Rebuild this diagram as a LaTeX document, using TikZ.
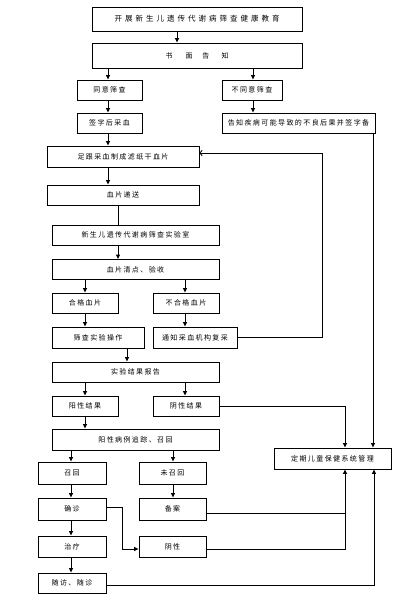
\documentclass[tikz,border=0pt]{standalone}
\usepackage{fontspec}
\newfontfamily\cjk[LetterSpace=20]{Noto Sans CJK SC}
\newfontfamily\cjkwide[LetterSpace=40]{Noto Sans CJK SC}
\usetikzlibrary{arrows.meta}

\begin{document}
\begin{tikzpicture}[x=1pt,y=-1pt,
  box/.style={draw,line width=0.9pt,inner sep=0pt,font=\cjk\fontsize{7}{8}\selectfont},
  arr/.style={line width=0.9pt,-{Triangle[width=4pt,length=4.5pt]}},
  ln/.style={line width=0.9pt},
  back/.style={line width=0.9pt,-{To[width=6pt,length=3pt]}}]

\useasboundingbox (0,0) rectangle (414,600);

\node[box,minimum width=210pt,minimum height=24pt,font=\cjkwide\fontsize{7.5}{8}\selectfont](edu) at (197,19){开展新生儿遗传代谢病筛查健康教育};
\node[box,minimum width=210pt,minimum height=25pt](notice) at (197,55.5){书\hspace{13pt}面\hspace{10pt}告\hspace{12pt}知};
\node[box,minimum width=65pt,minimum height=20pt](agree) at (109.5,90){同意筛查};
\node[box,minimum width=60pt,minimum height=20pt](refuse) at (252,90){不同意筛查};
\node[box,minimum width=65pt,minimum height=20pt](sign) at (109.5,123){签字后采血};
\node[box,minimum width=153pt,minimum height=20pt](inform) at (298.5,123){告知疾病可能导致的不良后果并签字备};
\node[box,minimum width=152pt,minimum height=21pt](heel) at (123,156.5){足跟采血制成滤纸干血片};
\node[box,minimum width=152pt,minimum height=20pt](send) at (123,195){血片递送};
\node[box,minimum width=167pt,minimum height=20pt](lab) at (135.5,235){新生儿遗传代谢病筛查实验室};
\node[box,minimum width=167pt,minimum height=20pt](count) at (135.5,269.5){血片清点、验收};
\node[box,minimum width=66pt,minimum height=20pt](good) at (85,303){合格血片};
\node[box,minimum width=66pt,minimum height=20pt](bad) at (186,303){不合格血片};
\node[box,minimum width=92pt,minimum height=21pt](test) at (98,337.5){筛查实验操作};
\node[box,minimum width=84pt,minimum height=21pt](again) at (195,337.5){通知采血机构复采};
\node[box,minimum width=167pt,minimum height=20pt](report) at (135.5,372){实验结果报告};
\node[box,minimum width=66pt,minimum height=20pt](pos) at (85,406){阳性结果};
\node[box,minimum width=66pt,minimum height=20pt](neg) at (186,406){阴性结果};
\node[box,minimum width=167pt,minimum height=21pt](track) at (135.5,439.5){阳性病例追踪、召回};
\node[box,minimum width=117pt,minimum height=21pt](care) at (332.5,458.5){定期儿童保健系统管理};
\node[box,minimum width=68pt,minimum height=22pt](recall) at (72,473){召回};
\node[box,minimum width=67pt,minimum height=22pt](norecall) at (172.5,473){未召回};
\node[box,minimum width=68pt,minimum height=22pt](diag) at (72,509){确诊};
\node[box,minimum width=67pt,minimum height=22pt](file) at (172.5,509){备案};
\node[box,minimum width=68pt,minimum height=21pt](treat) at (72,546.5){治疗};
\node[box,minimum width=67pt,minimum height=21pt](negres) at (172.5,546.5){阴性};
\node[box,minimum width=68pt,minimum height=20pt](visit) at (72,583){随访、随诊};

\draw[arr](edu.south -| 177,0)--(notice.north -| 177,0);
\draw[arr](notice.south -| 108,0)--(agree.north -| 108,0);
\draw[arr](notice.south -| 253,0)--(refuse.north -| 253,0);
\draw[arr](agree.south -| 108,0)--(sign.north -| 108,0);
\draw[arr](refuse.south -| 253,0)--(inform.north -| 253,0);
\draw[arr](sign.south -| 108,0)--(heel.north -| 108,0);
\draw[arr](heel.south -| 108,0)--(send.north -| 108,0);
\draw[ln](send.south -| 118,0)--(lab.north -| 118,0);
\draw[arr](lab.south -| 118,0)--(count.north -| 118,0);
\draw[arr](count.south -| 85,0)--(good.north -| 85,0);
\draw[arr](count.south -| 185,0)--(bad.north -| 185,0);
\draw[arr](good.south -| 85,0)--(test.north -| 85,0);
\draw[arr](bad.south -| 185,0)--(again.north -| 185,0);
\draw[arr](test.south -| 127,0)--(report.north -| 127,0);
\draw[back](again.east)--(322,337.5)--(322,153)--(heel.east |- 0,153);
\draw[arr](report.south -| 85,0)--(pos.north -| 85,0);
\draw[arr](report.south -| 185,0)--(neg.north -| 185,0);
\draw[arr](pos.south -| 85,0)--(track.north -| 85,0);
\draw[arr](neg.east)-|(care.north -| 345,0);
\draw[arr](inform.south -| 373,0)--(care.north -| 373,0);
\draw[arr](track.south -| 71,0)--(recall.north -| 71,0);
\draw[arr](track.south -| 173,0)--(norecall.north -| 173,0);
\draw[arr](recall.south -| 71,0)--(diag.north -| 71,0);
\draw[arr](norecall.south -| 173,0)--(file.north -| 173,0);
\draw[arr](diag.south -| 71,0)--(treat.north -| 71,0);
\draw[arr](treat.south -| 71,0)--(visit.north -| 71,0);
\draw[arr](diag.east |- 0,507)--(122,507)|-(negres.west |- 0,549);
\draw[ln](file.east |- 0,513)--(345,513);
\draw[arr](negres.east |- 0,549)-|(care.south -| 345,0);
\draw[arr](visit.east |- 0,585)-|(care.south -| 374,0);

\end{tikzpicture}
\end{document}
